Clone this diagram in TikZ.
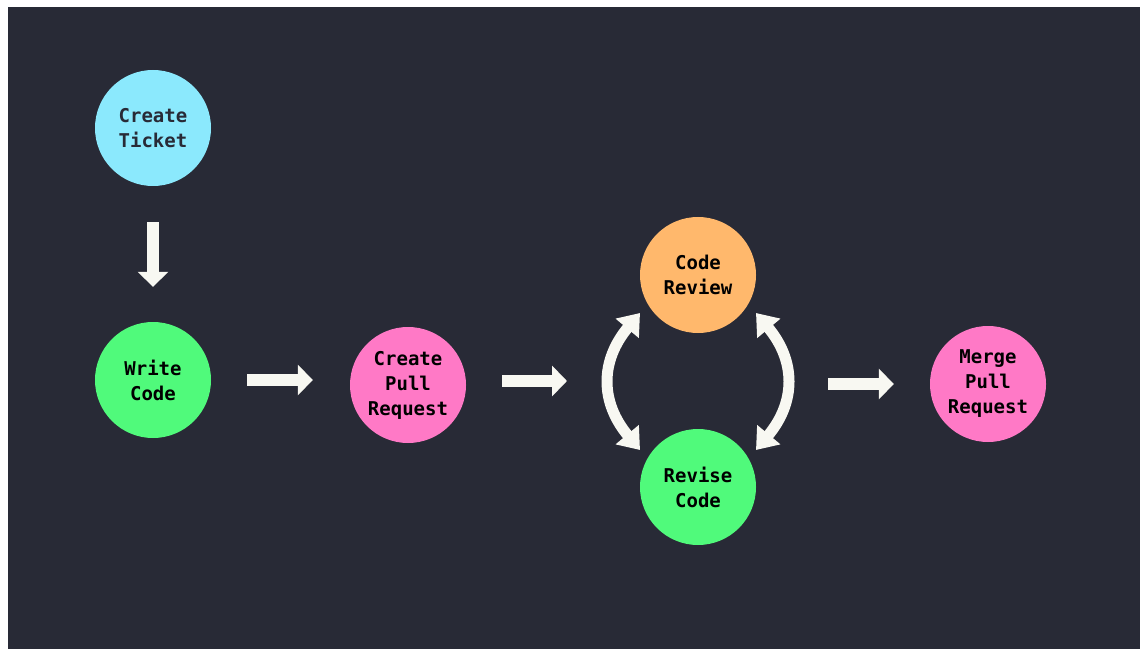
\documentclass[tikz,border=0pt]{standalone}
\usepackage{fontspec}
\setmonofont{DejaVu Sans Mono}
\usetikzlibrary{arrows.meta,calc}
\definecolor{bgdark}{HTML}{282A36}
\definecolor{fgwhite}{HTML}{F8F8F2}
\definecolor{tcyan}{HTML}{8BE9FD}
\definecolor{tgreen}{HTML}{50FA7B}
\definecolor{tpink}{HTML}{FF79C6}
\definecolor{torange}{HTML}{FFB86C}
\begin{document}
\begin{tikzpicture}[x=1pt,y=1pt,
  stage/.style={circle,minimum size=116pt,inner sep=0pt,
    font=\ttfamily\bfseries\fontsize{19}{25}\selectfont,align=center,text=black},
  flow/.style={draw=fgwhite,line width=12pt,
    -{Triangle[length=15pt,width=30pt]}},
  loop/.style={draw=fgwhite,line width=11pt,
    {Triangle[length=20pt,width=29pt]}-{Triangle[length=20pt,width=29pt]}}]
  \useasboundingbox (0,0) rectangle (1140,649);
  \fill[white] (0,0) rectangle (1140,649);
  \fill[bgdark] (8,0) rectangle (1140,642);

  % workflow stages
  \node[stage,fill=tcyan,text=bgdark] (ct)  at (153,521) {Create\\Ticket};
  \node[stage,fill=tgreen]  (wc)  at (153,269) {Write\\Code};
  \node[stage,fill=tpink]   (cpr) at (408,264) {Create\\Pull\\Request};
  \node[stage,fill=torange] (cr)  at (698,374) {Code\\Review};
  \node[stage,fill=tgreen]  (rc)  at (698,162) {Revise\\Code};
  \node[stage,fill=tpink]   (mpr) at (988,265) {Merge\\Pull\\Request};

  % entry and exit points of the review loop
  \coordinate (loopin)  at ($(cr)!0.5!(rc)+(-131,0)$);
  \coordinate (loopout) at ($(cr)!0.5!(rc)+(130,-3)$);

  % straight connectors
  \draw[flow,shorten <=36pt,shorten >=35pt] (ct.south) -- (wc.north);
  \draw[flow,shorten <=36pt,shorten >=37pt] (wc.east) -- (wc.east -| cpr.west);
  \draw[flow,shorten <=36pt] ($(cpr.east)+(0,4)$) -- (loopin);
  \draw[flow,shorten >=36pt] (loopout) -- (loopout -| mpr.west);

  % review loop
  \draw[loop] ($(rc)+(-58,37)$) .. controls +(-40,48) and +(-40,-48) .. ($(cr)+(-58,-38)$);
  \draw[loop] ($(rc)+(58,37)$) .. controls +(40,48) and +(40,-48) .. ($(cr)+(58,-38)$);
\end{tikzpicture}
\end{document}
